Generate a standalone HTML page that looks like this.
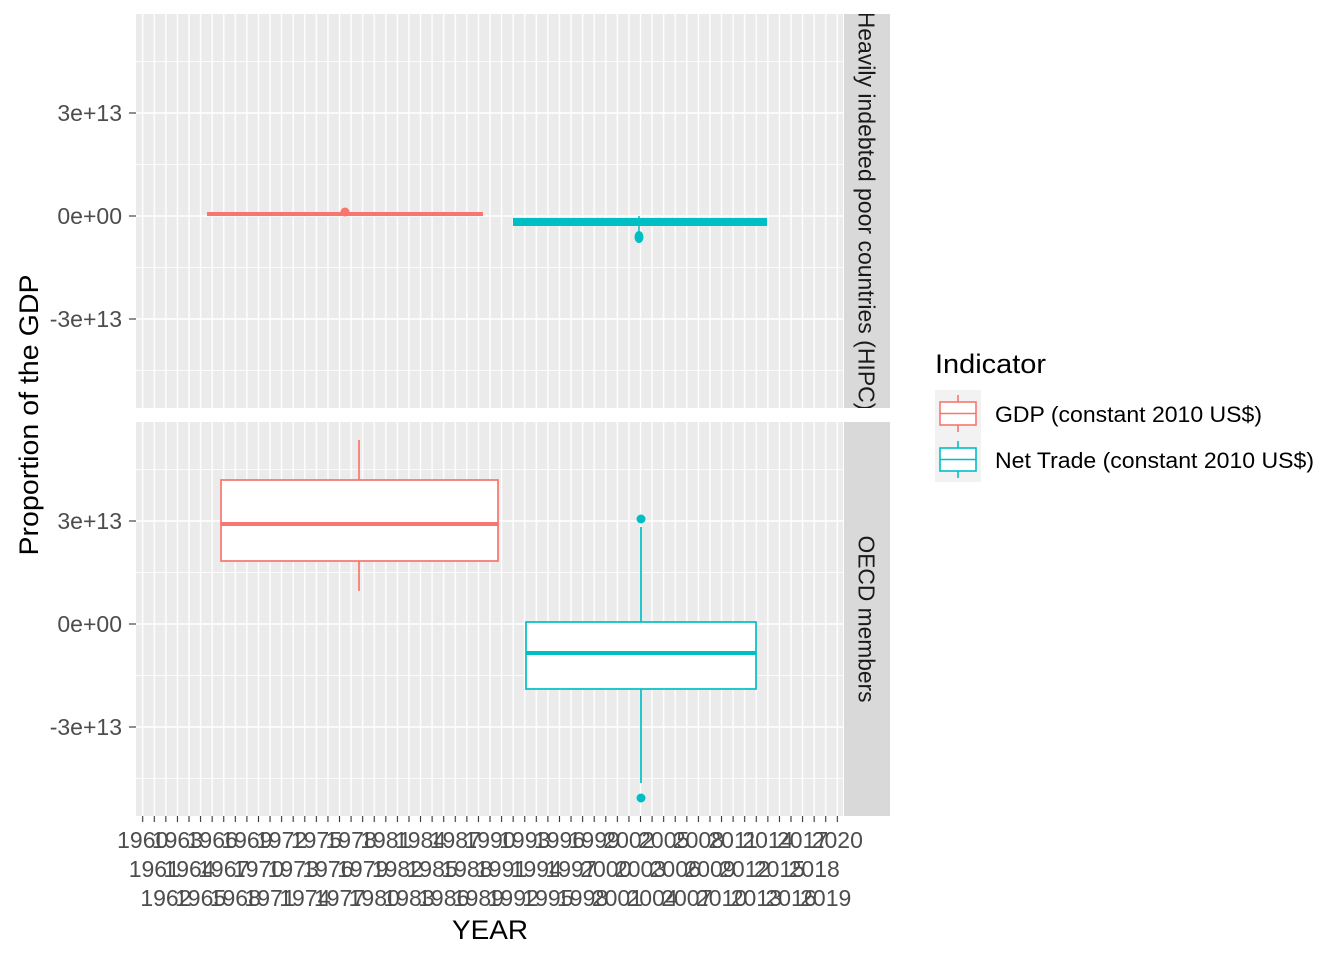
<!DOCTYPE html>
<html><head><meta charset="utf-8"><style>body{margin:0;background:#fff}svg{display:block}</style></head><body>
<svg width="1344" height="960" xmlns="http://www.w3.org/2000/svg" font-family="Liberation Sans, Arial, sans-serif">
<defs>
<pattern id="vg" x="142.7" y="0" width="11.577" height="960" patternUnits="userSpaceOnUse">
<rect x="-0.7" y="0" width="1.4" height="960" fill="#fff"/><rect x="10.877" y="0" width="1.4" height="960" fill="#fff"/>
</pattern>
<pattern id="tk" x="142.7" y="0" width="11.577" height="960" patternUnits="userSpaceOnUse">
<rect x="-0.55" y="0" width="1.1" height="960" fill="#333"/><rect x="11.027" y="0" width="1.1" height="960" fill="#333"/>
</pattern>
<clipPath id="cs"><rect x="844" y="14" width="46" height="394"/></clipPath>
</defs>
<rect x="136" y="14" width="707" height="394" fill="#ebebeb"/>
<rect x="136" y="422" width="707" height="394" fill="#ebebeb"/>
<g stroke="#fff">
<g stroke-width="0.7">
<line x1="136" x2="843" y1="61.5" y2="61.5"/><line x1="136" x2="843" y1="164.5" y2="164.5"/><line x1="136" x2="843" y1="267.5" y2="267.5"/><line x1="136" x2="843" y1="370.5" y2="370.5"/>
<line x1="136" x2="843" y1="469.5" y2="469.5"/><line x1="136" x2="843" y1="572.5" y2="572.5"/><line x1="136" x2="843" y1="675.5" y2="675.5"/><line x1="136" x2="843" y1="778.5" y2="778.5"/>
</g>
<g stroke-width="1.4">
<line x1="136" x2="843" y1="113" y2="113"/><line x1="136" x2="843" y1="216" y2="216"/><line x1="136" x2="843" y1="319" y2="319"/>
<line x1="136" x2="843" y1="521" y2="521"/><line x1="136" x2="843" y1="624" y2="624"/><line x1="136" x2="843" y1="727" y2="727"/>
</g>
</g>
<rect x="136" y="14" width="707" height="394" fill="url(#vg)"/>
<rect x="136" y="422" width="707" height="394" fill="url(#vg)"/>
<rect x="141" y="816" width="700" height="6" fill="url(#tk)"/>
<g stroke="#333" stroke-width="1.1">
<line x1="129" x2="136" y1="113" y2="113"/><line x1="129" x2="136" y1="216" y2="216"/><line x1="129" x2="136" y1="319" y2="319"/>
<line x1="129" x2="136" y1="521" y2="521"/><line x1="129" x2="136" y1="624" y2="624"/><line x1="129" x2="136" y1="727" y2="727"/>
</g>
<g fill="#4d4d4d" font-size="23" text-anchor="end">
<text x="122" y="121">3e+13</text><text x="122" y="224">0e+00</text><text x="122" y="327">-3e+13</text>
<text x="122" y="529">3e+13</text><text x="122" y="632">0e+00</text><text x="122" y="735">-3e+13</text>
</g>
<rect x="207" y="212" width="276" height="4" fill="#F8766D"/>
<circle cx="345" cy="212" r="4.5" fill="#F8766D"/>
<line x1="639" x2="639" y1="216" y2="236" stroke="#00BFC4" stroke-width="1.5"/>
<rect x="513" y="218" width="254" height="8" fill="#00BFC4"/>
<ellipse cx="639" cy="237" rx="4.5" ry="6" fill="#00BFC4"/>
<g fill="#fff" stroke-width="1.7">
<line x1="359" x2="359" y1="440" y2="480" stroke="#F8766D"/><line x1="359" x2="359" y1="561" y2="591" stroke="#F8766D"/>
<rect x="221" y="480" width="277" height="81" stroke="#F8766D"/>
<line x1="221" x2="498" y1="524" y2="524" stroke="#F8766D" stroke-width="4"/>
<line x1="641" x2="641" y1="527" y2="622" stroke="#00BFC4"/><line x1="641" x2="641" y1="689" y2="783" stroke="#00BFC4"/>
<rect x="526" y="622" width="230" height="67" stroke="#00BFC4"/>
<line x1="526" x2="756" y1="653" y2="653" stroke="#00BFC4" stroke-width="4"/>
</g>
<circle cx="641" cy="519" r="4.5" fill="#00BFC4"/><circle cx="641" cy="798" r="4.5" fill="#00BFC4"/>
<rect x="844" y="14" width="46" height="394" fill="#d9d9d9"/>
<rect x="844" y="422" width="46" height="394" fill="#d9d9d9"/>
<g fill="#1a1a1a" font-size="23">
<g clip-path="url(#cs)"><text transform="translate(858.5,211) rotate(90)" text-anchor="middle">Heavily indebted poor countries (HIPC)</text></g>
<text transform="translate(858.5,619) rotate(90)" text-anchor="middle" textLength="167" lengthAdjust="spacingAndGlyphs">OECD members</text>
</g>
<g fill="#4d4d4d" font-size="23" text-anchor="middle">
<text x="142.7" y="848">1960</text><text x="177.4" y="848">1963</text><text x="212.2" y="848">1966</text><text x="246.9" y="848">1969</text><text x="281.6" y="848">1972</text><text x="316.4" y="848">1975</text><text x="351.1" y="848">1978</text><text x="385.8" y="848">1981</text><text x="420.5" y="848">1984</text><text x="455.3" y="848">1987</text><text x="490.0" y="848">1990</text><text x="524.7" y="848">1993</text><text x="559.5" y="848">1996</text><text x="594.2" y="848">1999</text><text x="628.9" y="848">2002</text><text x="663.7" y="848">2005</text><text x="698.4" y="848">2008</text><text x="733.1" y="848">2011</text><text x="767.9" y="848">2014</text><text x="802.6" y="848">2017</text><text x="837.3" y="848">2020</text>
<text x="154.3" y="877">1961</text><text x="189.0" y="877">1964</text><text x="223.7" y="877">1967</text><text x="258.5" y="877">1970</text><text x="293.2" y="877">1973</text><text x="327.9" y="877">1976</text><text x="362.7" y="877">1979</text><text x="397.4" y="877">1982</text><text x="432.1" y="877">1985</text><text x="466.9" y="877">1988</text><text x="501.6" y="877">1991</text><text x="536.3" y="877">1994</text><text x="571.0" y="877">1997</text><text x="605.8" y="877">2000</text><text x="640.5" y="877">2003</text><text x="675.2" y="877">2006</text><text x="710.0" y="877">2009</text><text x="744.7" y="877">2012</text><text x="779.4" y="877">2015</text><text x="814.2" y="877">2018</text>
<text x="165.9" y="906">1962</text><text x="200.6" y="906">1965</text><text x="235.3" y="906">1968</text><text x="270.0" y="906">1971</text><text x="304.8" y="906">1974</text><text x="339.5" y="906">1977</text><text x="374.2" y="906">1980</text><text x="409.0" y="906">1983</text><text x="443.7" y="906">1986</text><text x="478.4" y="906">1989</text><text x="513.2" y="906">1992</text><text x="547.9" y="906">1995</text><text x="582.6" y="906">1998</text><text x="617.4" y="906">2001</text><text x="652.1" y="906">2004</text><text x="686.8" y="906">2007</text><text x="721.5" y="906">2010</text><text x="756.3" y="906">2013</text><text x="791.0" y="906">2016</text><text x="825.7" y="906">2019</text>
</g>
<text x="490" y="939" font-size="27" text-anchor="middle" fill="#000" textLength="76" lengthAdjust="spacingAndGlyphs">YEAR</text>
<text transform="translate(38,415) rotate(-90)" font-size="27" text-anchor="middle" fill="#000" textLength="281" lengthAdjust="spacingAndGlyphs">Proportion of the GDP</text>
<text x="935" y="373" font-size="27" fill="#000" textLength="111" lengthAdjust="spacingAndGlyphs">Indicator</text>
<rect x="935" y="390" width="46" height="92" fill="#f2f2f2"/>
<g fill="none" stroke-width="1.6">
<line x1="958" x2="958" y1="395" y2="432" stroke="#F8766D"/>
<rect x="940" y="402" width="36" height="23" fill="#fff" stroke="#F8766D"/>
<line x1="940" x2="976" y1="413.5" y2="413.5" stroke="#F8766D"/>
<line x1="958" x2="958" y1="441" y2="478" stroke="#00BFC4"/>
<rect x="940" y="448" width="36" height="23" fill="#fff" stroke="#00BFC4"/>
<line x1="940" x2="976" y1="459.5" y2="459.5" stroke="#00BFC4"/>
</g>
<g font-size="22" fill="#000">
<text x="995" y="422" textLength="267" lengthAdjust="spacingAndGlyphs">GDP (constant 2010 US$)</text>
<text x="995" y="468" textLength="319" lengthAdjust="spacingAndGlyphs">Net Trade (constant 2010 US$)</text>
</g>
</svg>
</body></html>
